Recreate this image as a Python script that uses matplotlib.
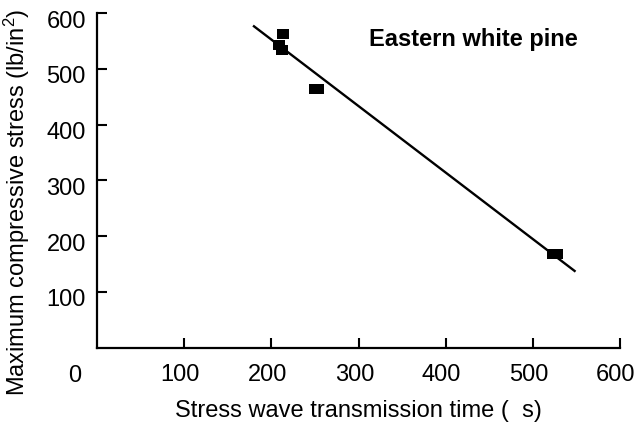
import numpy as np
import matplotlib
matplotlib.use('Agg')
import matplotlib.pyplot as plt
import matplotlib.transforms as mtransforms

plt.rcParams['font.family'] = ['Liberation Sans', 'DejaVu Sans']
plt.rcParams['mathtext.default'] = 'regular'

# measured points: stress wave time (us) and max compressive stress (lb/in2)
wave_time = [213.6, 208.7, 212.5, 250.0, 253.8, 523.3, 527.2]
max_stress = [562, 544, 534, 464, 464, 168, 168]

# regression line
fit_slope = -1.194
fit_intercept = 791.7
fit_range = [179, 549]

x_ticks = [100, 200, 300, 400, 500, 600]
y_ticks = [100, 200, 300, 400, 500, 600]

fig = plt.figure(figsize=(6.37, 4.24), dpi=100)
ax = fig.add_axes([0.1523, 0.1804, 0.8210, 0.7882])

line_x = np.array(fit_range, dtype=float)
ax.plot(line_x, fit_intercept + fit_slope * line_x, color='black', lw=1.7,
        solid_capstyle='butt')

# slightly wide square marker, like the original
box = [(-6, -5), (6, -5), (6, 5), (-6, 5), (-6, -5)]
ax.plot(wave_time, max_stress, linestyle='none', marker=box, markersize=8.6,
        color='black', mew=0)

ax.set_xlim(0, 600)
ax.set_ylim(0, 600)
ax.set_xticks(x_ticks)
ax.set_yticks(y_ticks)

for s in ['top', 'right']:
    ax.spines[s].set_visible(False)
for s in ['left', 'bottom']:
    ax.spines[s].set_linewidth(1.6)

ax.tick_params(axis='both', direction='in', length=7.5, width=1.5,
               labelsize=17, colors='black')
ax.tick_params(axis='x', pad=12)
ax.tick_params(axis='y', pad=8)

# tick labels sit a little off their ticks in the original
dx = mtransforms.ScaledTranslation(-3 / 72, 0, fig.dpi_scale_trans)
for lab in ax.get_xticklabels():
    lab.set_transform(lab.get_transform() + dx)
dy = mtransforms.ScaledTranslation(0, -4.3 / 72, fig.dpi_scale_trans)
for lab in ax.get_yticklabels():
    lab.set_transform(lab.get_transform() + dy)

# shared origin label
ax.text(-0.042, -0.1023, '0', transform=ax.transAxes, fontsize=17,
        ha='center', va='baseline')

ax.set_xlabel('Stress wave transmission time (  s)', fontsize=17, labelpad=10)
ax.set_ylabel('Maximum compressive stress (lb/in$^2$)', fontsize=17)
ax.yaxis.set_label_coords(-0.124, 0.434)

ax.text(0.52, 0.902, 'Eastern white pine', transform=ax.transAxes,
        fontsize=17, fontweight='bold', ha='left', va='baseline')

fig.savefig('out.png', dpi=100)
